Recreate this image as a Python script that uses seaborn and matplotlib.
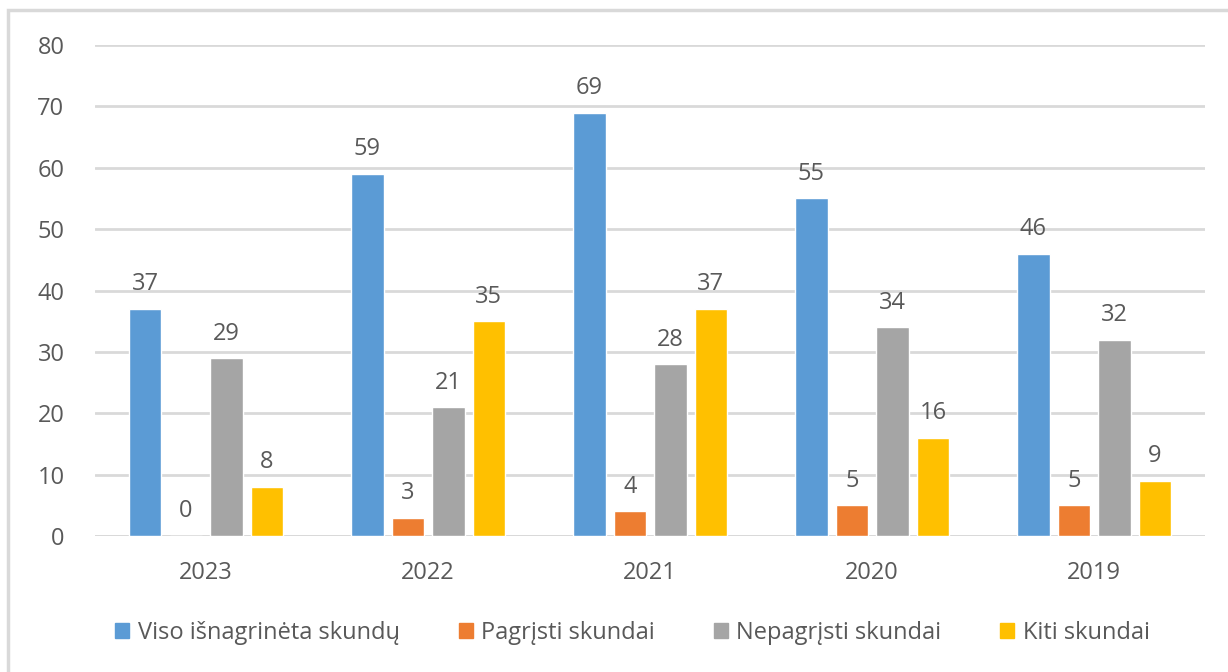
import matplotlib
matplotlib.use("Agg")
import matplotlib.pyplot as plt
import seaborn as sns
import pandas as pd
from matplotlib.patches import Rectangle

years = ["2023", "2022", "2021", "2020", "2019"]
series = ["Viso išnagrinėta skundų", "Pagrįsti skundai", "Nepagrįsti skundai", "Kiti skundai"]
viso = [37, 59, 69, 55, 46]
pagristi = [0, 3, 4, 5, 5]
nepagristi = [29, 21, 28, 34, 32]
kiti = [8, 35, 37, 16, 9]
colors = ["#5B9BD5", "#ED7D31", "#A5A5A5", "#FFC000"]

rows = []
for s, vals in zip(series, [viso, pagristi, nepagristi, kiti]):
    for y, v in zip(years, vals):
        rows.append({"year": y, "series": s, "value": v})
df = pd.DataFrame(rows)

sns.set_theme(style="white")
plt.rcParams["font.family"] = ["Open Sans", "DejaVu Sans"]
txt = "#595959"
fs = 17

fig = plt.figure(figsize=(12.28, 6.72), dpi=100)
ax = fig.add_axes([0.0774, 0.2024, 0.904, 0.7306])
sns.barplot(data=df, x="year", y="value", hue="series", order=years,
            hue_order=series, palette=colors, width=0.73, gap=0.2,
            saturation=1, ax=ax, legend=True)

ax.set_ylim(0, 80)
ax.set_yticks(range(0, 81, 10))
ax.yaxis.grid(True, color="#D9D9D9", linewidth=2)
ax.set_axisbelow(True)
for sp in ax.spines.values():
    sp.set_visible(False)
ax.set_xlabel("")
ax.set_ylabel("")
ax.tick_params(axis="both", length=0, labelsize=fs, colors=txt)
ax.tick_params(axis="x", pad=18)
ax.tick_params(axis="y", pad=22)
ax.axhline(0, color="#D9D9D9", linewidth=2, zorder=0.5)

for cont in ax.containers:
    ax.bar_label(cont, padding=9, fontsize=fs, color=txt)

ax.legend_.remove()
handles = [Rectangle((0, 0), 1, 1, color=c) for c in colors]
fig.legend(handles, series, loc="center", bbox_to_anchor=(0.515, 0.058),
           ncol=4, frameon=False, fontsize=fs, labelcolor=txt,
           handlelength=0.6, handleheight=0.6, handletextpad=0.35,
           columnspacing=2.5)

fig.patches.append(Rectangle((8 / 1228, -0.05), 1.0, 1 - 10 / 672 + 0.05,
                             transform=fig.transFigure, fill=False,
                             edgecolor="#D9D9D9", linewidth=2.5))

fig.savefig("out.png", dpi=100)
